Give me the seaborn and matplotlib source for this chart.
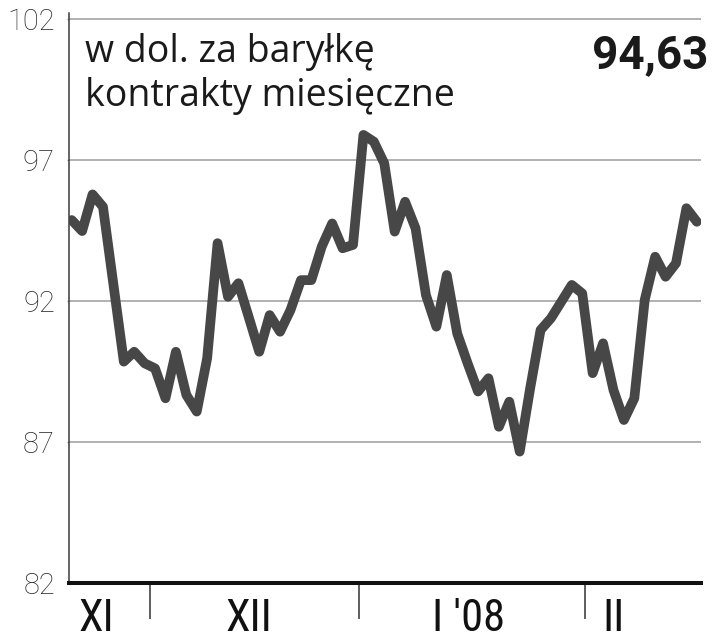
import numpy as np
import pandas as pd
import matplotlib
matplotlib.use("Agg")
import matplotlib.pyplot as plt
from matplotlib import font_manager as fm
import seaborn as sns

# ---- data ----
days = [0, 1, 2, 3] + list(range(5, 17)) + list(range(18, 61))
prices = [94.87, 94.48, 95.78, 95.34, 89.85, 90.20, 89.79, 89.61, 88.55, 90.20,
          88.67, 88.08, 89.97, 94.05, 92.15, 92.63, 90.20, 91.50, 90.91, 91.68,
          92.74, 92.74, 93.93, 94.75, 93.87, 93.99, 97.89, 97.65, 96.88, 94.46,
          95.52, 94.58, 92.21, 91.09, 92.92, 90.85, 89.79, 88.79, 89.26, 87.54,
          88.43, 86.66, 88.90, 90.97, 91.39, 91.98, 92.57, 92.27, 89.44, 90.50,
          88.84, 87.78, 88.55, 92.04, 93.57, 92.86, 93.34, 95.29, 94.81]
yticks = [82, 87, 92, 97, 102]
month_labels = ["XI", "XII", "I '08", "II"]
month_centers = [2.4, 17.0, 38.1, 52.0]
month_separators = [7.5, 27.6, 49.3]
title_lines = ["w dol. za baryłkę", "kontrakty miesięczne"]
last_value = "94,63"

names = {f.name for f in fm.fontManager.ttflist}
def pick(*cands):
    for c in cands:
        if c in names:
            return c
    return "DejaVu Sans"

f_title = pick("Open Sans", "Noto Sans", "Roboto")
f_num = pick("Roboto", "Open Sans")
f_month = pick("Liberation Sans Narrow", "Roboto Condensed", "DejaVu Sans Condensed", "Roboto")

sns.set_theme(style="white")
plt.rcParams["font.family"] = [f_num, "DejaVu Sans"]

df = pd.DataFrame({"day": days, "price": prices})

W, H = 713, 640
fig = plt.figure(figsize=(W / 100, H / 100), dpi=100)
ytop = 102.2
px_per_unit = (583 - 19) / 20.0
top_px = 19 - (ytop - 102) * px_per_unit
ax = fig.add_axes([69 / W, 1 - 583 / H, (701 - 69) / W, (583 - top_px) / H])

sns.lineplot(data=df, x="day", y="price", ax=ax, color="#474747", lw=7,
             solid_capstyle="round", solid_joinstyle="round", zorder=3)

ax.set_xlim(-0.26, 60.4)
ax.set_ylim(82, ytop)
ax.set_xlabel("")
ax.set_ylabel("")

ax.set_yticks(yticks)
ax.set_yticklabels([str(v) for v in yticks])
ax.grid(axis="y", color="#9d9d9d", lw=1.1)
ax.grid(axis="x", visible=False)
ax.set_axisbelow(True)

ax.set_xticks(month_centers)
ax.set_xticklabels(month_labels)
ax.set_xticks(month_separators, minor=True)

for s in ["top", "right"]:
    ax.spines[s].set_visible(False)
ax.spines["left"].set_color("#3a3a3a")
ax.spines["left"].set_linewidth(1.1)
ax.spines["bottom"].set_color("#111111")
ax.spines["bottom"].set_linewidth(2.9)

ax.tick_params(axis="y", left=True, length=1.5, width=1.0, color="#9d9d9d",
               pad=8.6, labelsize=21, labelcolor="#2a2a2a")
for t in ax.get_yticklabels():
    t.set_fontweight("light")
    t.set_family([f_num, "DejaVu Sans"])
ax.tick_params(axis="x", which="major", bottom=True, length=0, pad=11,
               labelsize=32, labelcolor="#111111")
for t in ax.get_xticklabels():
    t.set_family([f_month, "DejaVu Sans"])
ax.tick_params(axis="x", which="minor", bottom=True, direction="out",
               length=26, width=1.1, color="#333333")

fig.text(85 / W, 1 - 62 / H, title_lines[0], fontsize=27, va="baseline",
         color="#1a1a1a", family=[f_title, "DejaVu Sans"])
fig.text(85 / W, 1 - 106 / H, title_lines[1], fontsize=27, va="baseline",
         color="#1a1a1a", family=[f_title, "DejaVu Sans"])
fig.text(708 / W, 1 - 68 / H, last_value, fontsize=33, fontweight="bold",
         ha="right", va="baseline", color="#1a1a1a", family=[f_num, "DejaVu Sans"])

fig.savefig("out.png", dpi=100, facecolor="white")
